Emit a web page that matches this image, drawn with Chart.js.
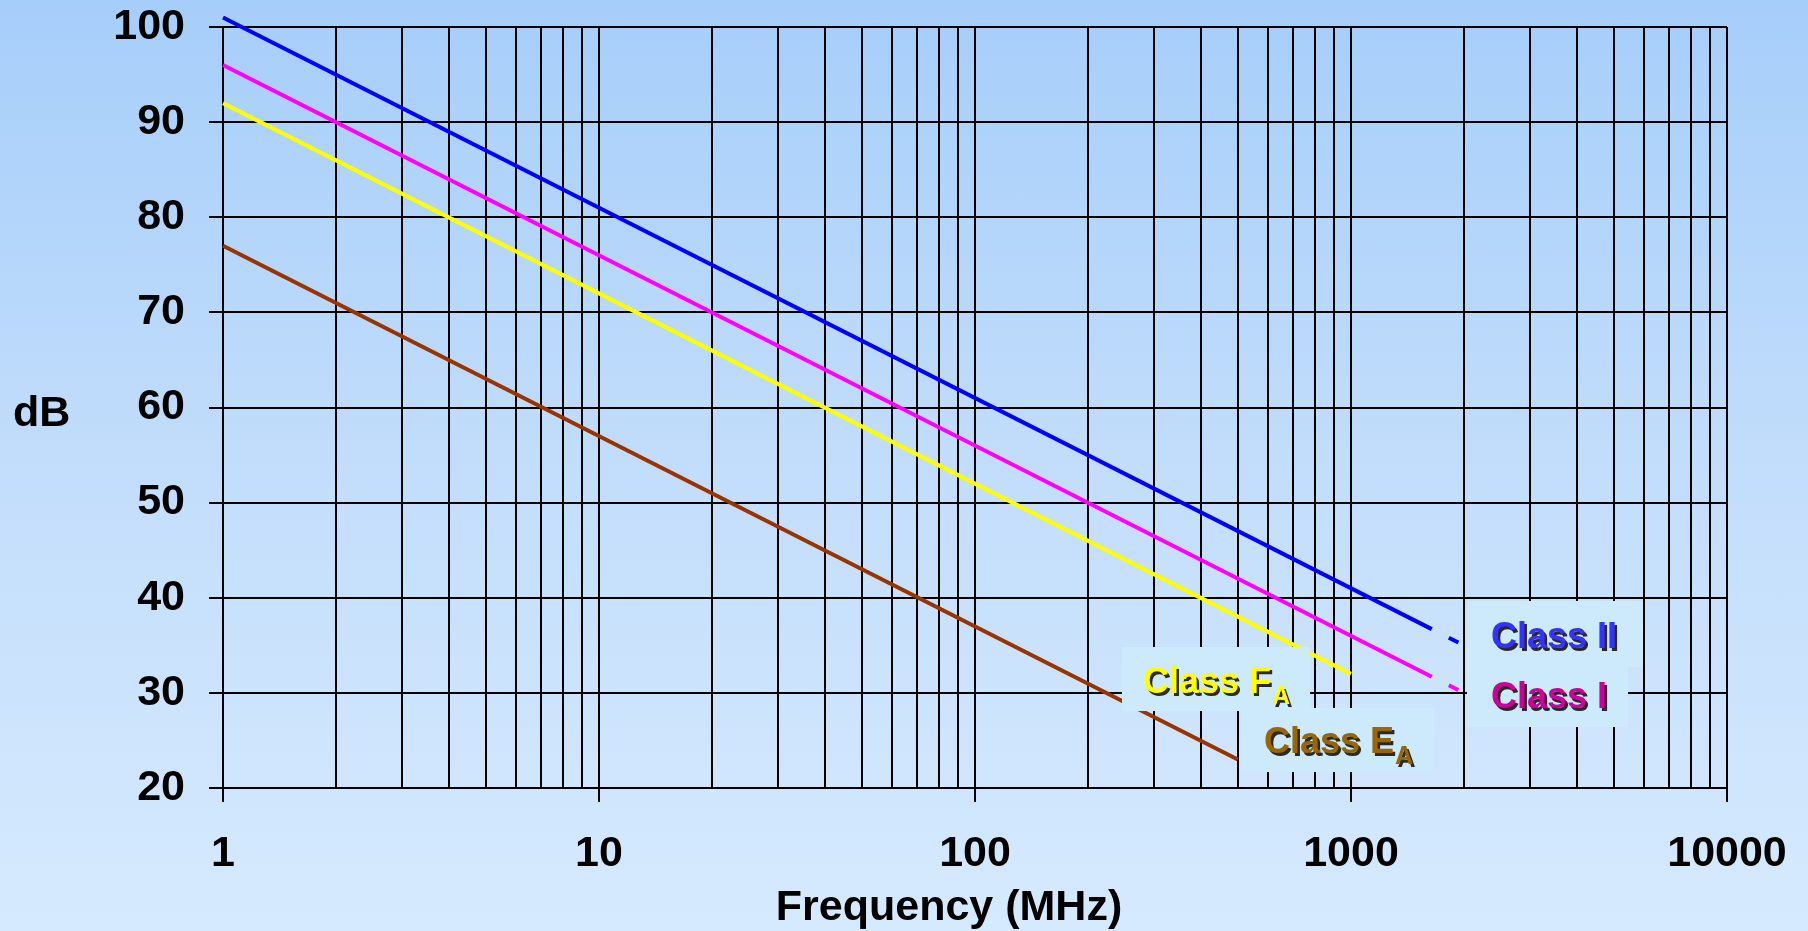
<!DOCTYPE html>
<html>
<head>
<meta charset="utf-8">
<script src="https://cdn.jsdelivr.net/npm/chart.js@4.4.1/dist/chart.umd.min.js"></script>
<style>
  html, body { margin: 0; padding: 0; }
  body { width: 1808px; height: 931px; overflow: hidden;
         background: linear-gradient(to bottom, #a6cefa 0%, #c2ddfb 50%, #d6eafe 100%); }
  #wrap { position: relative; width: 1808px; height: 931px; }
</style>
</head>
<body>
<div id="wrap"><canvas id="c" width="1808" height="931"></canvas></div>
<script>
// ---- data ----
const classIIFreq   = [1, 1640];
const classIIdB     = [101, 36.7];
const classIIDashFreq = [1820, 1930];
const classIIDashdB   = [35.8, 35.3];

const classIFreq    = [1, 1640];
const classIdB      = [96, 31.7];
const classIDashFreq = [1820, 1930];
const classIDashdB   = [30.8, 30.3];

const classFAFreq   = [1, 1000];
const classFAdB     = [92, 32];

const classEAFreq   = [1, 500];
const classEAdB     = [77, 23];

const xTickLabels = ['1', '10', '100', '1000', '10000'];
const yTickLabels = ['20', '30', '40', '50', '60', '70', '80', '90', '100'];

const labelTexts = [
  { main: 'Class II', sub: '' },
  { main: 'Class I', sub: '' },
  { main: 'Class F', sub: 'A' },
  { main: 'Class E', sub: 'A' }
];

function pts(xs, ys) { return xs.map((x, i) => ({ x: x, y: ys[i] })); }

// gridline positions for log axis: 1..9 x 10^k
const xGridValues = [];
for (let d = 1; d <= 1000; d *= 10) for (let m = 1; m <= 9; m++) xGridValues.push(m * d);
xGridValues.push(10000);

const FONT = '"Liberation Sans", Arial, sans-serif';

const overlay = {
  id: 'overlay',
  afterDatasetsDraw(chart) {
    const ctx = chart.ctx;
    ctx.save();
    // label boxes
    ctx.fillStyle = '#cdeafc';
    ctx.fillRect(1122, 647, 188, 64);   // Class FA
    ctx.fillRect(1241, 708, 193, 64);   // Class EA
    ctx.fillRect(1467, 601, 176, 66);   // Class II
    ctx.fillRect(1467, 665, 161, 62);   // Class I

    function shadowText(t, x, y, color, size) {
      ctx.font = 'bold ' + size + 'px ' + FONT;
      ctx.textBaseline = 'alphabetic';
      ctx.textAlign = 'left';
      ctx.fillStyle = '#2a2a2a';
      ctx.fillText(t, x + 2.5, y + 2.5);
      ctx.fillStyle = color;
      ctx.fillText(t, x, y);
      return ctx.measureText(t).width;
    }
    shadowText(labelTexts[0].main, 1491, 648, '#3333ff', 36);
    shadowText(labelTexts[1].main, 1491, 708, '#cc0099', 36);
    let w = shadowText(labelTexts[2].main, 1143, 693, '#ffff00', 36);
    shadowText(labelTexts[2].sub, 1143 + w + 1, 704, '#ffff00', 25);
    w = shadowText(labelTexts[3].main, 1264, 753, '#996600', 36);
    shadowText(labelTexts[3].sub, 1264 + w + 1, 764, '#996600', 25);

    // axis titles (horizontal)
    ctx.fillStyle = '#000';
    ctx.font = 'bold 43px ' + FONT;
    ctx.textAlign = 'left';
    ctx.textBaseline = 'alphabetic';
    ctx.fillText('dB', 13, 426);
    ctx.textAlign = 'center';
    ctx.fillText('Frequency (MHz)', 949, 920);
    ctx.restore();
  }
};

new Chart(document.getElementById('c'), {
  type: 'line',
  data: {
    datasets: [
      { label: 'Class II', data: pts(classIIFreq, classIIdB), borderColor: '#0000ff' },
      { label: 'Class II ext', data: pts(classIIDashFreq, classIIDashdB), borderColor: '#0000ff' },
      { label: 'Class I', data: pts(classIFreq, classIdB), borderColor: '#ff00ff' },
      { label: 'Class I ext', data: pts(classIDashFreq, classIDashdB), borderColor: '#ff00ff' },
      { label: 'Class FA', data: pts(classFAFreq, classFAdB), borderColor: '#ffff00' },
      { label: 'Class EA', data: pts(classEAFreq, classEAdB), borderColor: '#993300' }
    ].map(d => Object.assign(d, { borderWidth: 4, pointRadius: 0, fill: false, tension: 0, clip: false, borderCapStyle: 'butt' }))
  },
  options: {
    responsive: false,
    animation: false,
    devicePixelRatio: 1,
    layout: { padding: { left: 0, top: 27, right: 81, bottom: 0 } },
    plugins: { legend: { display: false }, tooltip: { enabled: false }, title: { display: false } },
    scales: {
      x: {
        type: 'logarithmic',
        min: 1, max: 10000,
        afterBuildTicks(scale) {
          scale.ticks = xGridValues.map(v => ({ value: v, major: xTickLabels.includes(String(v)) }));
        },
        afterFit(scale) {
          scale.height = 143;
          scale.paddingLeft = 0; scale.paddingRight = 0; scale.paddingTop = 0; scale.paddingBottom = 0;
        },
        grid: {
          color: '#000', lineWidth: 2, drawTicks: true, tickLength: 14,
          tickColor: (c) => (c.tick && xTickLabels.includes(String(c.tick.value))) ? '#000' : 'rgba(0,0,0,0)',
          tickWidth: 2
        },
        border: { display: true, color: '#000', width: 2 },
        ticks: {
          autoSkip: false, maxRotation: 0, padding: 26,
          color: '#000', font: { family: FONT, size: 43, weight: 'bold' },
          callback: (v) => xTickLabels.includes(String(v)) ? String(v) : ''
        }
      },
      y: {
        type: 'linear',
        min: 20, max: 100,
        afterBuildTicks(scale) {
          scale.ticks = yTickLabels.map(s => ({ value: Number(s) }));
        },
        afterFit(scale) {
          scale.width = 223;
          scale.paddingLeft = 0; scale.paddingRight = 0; scale.paddingTop = 0; scale.paddingBottom = 0;
        },
        grid: { color: '#000', lineWidth: 2, drawTicks: true, tickLength: 14, tickColor: '#000', tickWidth: 2 },
        border: { display: true, color: '#000', width: 2 },
        ticks: {
          padding: 24, color: '#000', font: { family: FONT, size: 43, weight: 'bold' },
          callback: (v) => yTickLabels.includes(String(v)) ? String(v) : ''
        }
      }
    }
  },
  plugins: [overlay]
});
</script>
</body>
</html>
